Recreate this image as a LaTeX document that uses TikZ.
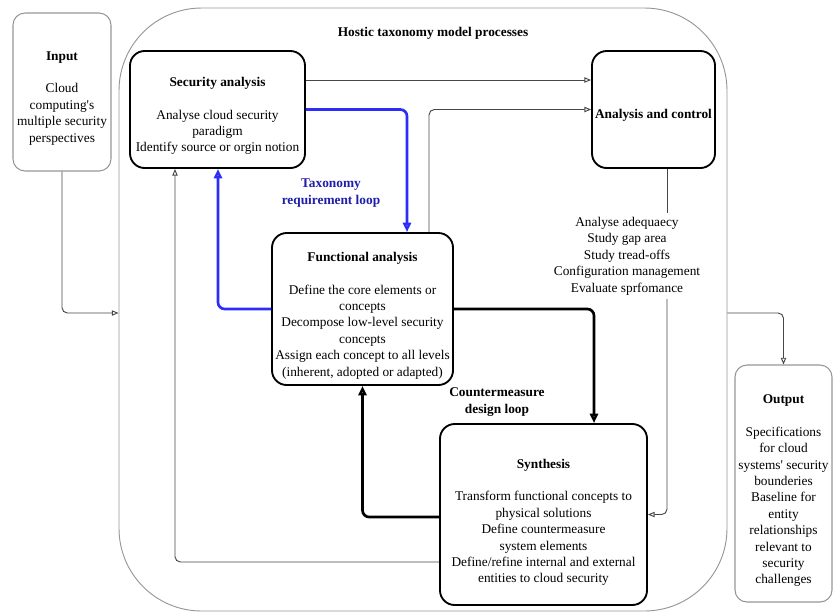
\documentclass[tikz,border=0pt]{standalone}
\usepackage{fontspec}
\setmainfont{Liberation Serif}
\usetikzlibrary{arrows.meta,fit}
\definecolor{loopblue}{RGB}{45,45,250}
\definecolor{looptext}{RGB}{30,30,170}
\definecolor{framegray}{RGB}{150,150,150}
\definecolor{wiregray}{RGB}{70,70,70}
\newcommand{\apo}{\textquotesingle}
\begin{document}
\begin{tikzpicture}[x=0.75pt,y=-0.75pt,
  every node/.style={font=\fontsize{10}{12.3}\selectfont, align=center},
  boldtext/.style={font=\fontsize{10}{12.3}\selectfont\bfseries},
  procbox/.style={draw=black, line width=1.4pt, rounded corners=11pt, inner sep=0pt},
  iobox/.style={draw=framegray, line width=0.8pt, rounded corners=9pt, inner sep=0pt},
  frame/.style={draw=framegray, line width=0.7pt, rounded corners=62pt, inner sep=0pt},
  plainwire/.style={draw=wiregray, line width=0.7pt},
  wire/.style={draw=wiregray, line width=0.7pt, rounded corners=4pt, -{Triangle[open,length=5pt,width=4pt]}},
  bigwire/.style={draw=black, line width=2pt, rounded corners=5pt, -{Triangle[open,length=7pt,width=6pt]}},
  bluewire/.style={draw=loopblue, line width=2pt, rounded corners=5pt, -{Triangle[open,length=7pt,width=6pt]}},
]
\useasboundingbox (0,0) rectangle (834,612);

% process frame and its title
\node[frame, fit={(119,8) (727,611)}] (proc) {};
\node[boldtext] (ttl) at (433,33) {Hostic taxonomy model processes};

% input and output
\node[iobox, fit={(13,13) (111,171)}] (in) {};
\node (intext) at ([yshift=-4.8pt]in.center)
  {\textbf{Input}\\[12pt]Cloud\\computing\apo s\\multiple security\\perspectives};
\node[iobox, fit={(735,365) (832,602)}] (out) {};
\node (outtext) at ([yshift=-5.5pt]out.center)
  {\textbf{Output}\\[12pt]Specifications\\for cloud\\systems\apo\ security\\bounderies\\Baseline for\\entity\\relationships\\relevant to\\security\\challenges};

% process steps
\node[procbox, fit={(130,51) (305,168)}] (sec) {};
\node (sectext) at ([yshift=-5pt]sec.center)
  {\textbf{Security analysis}\\[12pt]Analyse cloud security\\paradigm\\Identify source or orgin notion};
\node[procbox, fit={(592,51) (715,168)}] (ac) {};
\node[boldtext] (actext) at ([yshift=-4.5pt]ac.center) {Analysis and control};
\node[procbox, fit={(272,233) (453,385)}] (fa) {};
\node (fatext) at ([yshift=-5pt]fa.center)
  {\textbf{Functional analysis}\\[12pt]Define the core elements or\\concepts\\Decompose low-level security\\concepts\\Assign each concept to all levels\\(inherent, adopted or adapted)};
\node[procbox, fit={(440,424) (647,605)}] (syn) {};
\node (syntext) at ([yshift=-6pt]syn.center)
  {\textbf{Synthesis}\\[12pt]Transform functional concepts to\\physical solutions\\Define countermeasure\\system elements\\Define/refine internal and external\\entities to cloud security};

% loop labels and control notes
\node[boldtext, text=looptext] (tlabel) at (331,193) {Taxonomy\\requirement loop};
\node[boldtext] (clabel) at (497,402) {Countermeasure\\design loop};
\node[inner sep=3pt] (notes) at (627,256)
  {Analyse adequaecy\\Study gap area\\Study tread-offs\\Configuration management\\Evaluate sprfomance};

% connectors
\draw[wire] (in.south) |- (proc.west |- 0,313);
\draw[wire] (proc.east |- 0,313) -| (out.north);
\draw[wire] (sec.east |- 0,80) -- (ac.west |- 0,80);
\draw[wire] (fa.north -| 429,0) |- (ac.west);
\draw[plainwire] (ac.south -| 667,0) -- (notes.north -| 667,0);
\draw[wire] (notes.south -| 667,0) |- (syn.east);
\draw[wire] (syn.west |- 0,562) -| (sec.south -| 175,0);

% taxonomy requirement loop
\draw[bluewire] (sec.east) -| (fa.north -| 407,0);
\draw[bluewire] (fa.west) -| (sec.south -| 218,0);

% countermeasure design loop
\draw[bigwire] (fa.east) -| (syn.north -| 594,0);
\draw[bigwire] (syn.west |- 0,517) -| (fa.south);
\end{tikzpicture}
\end{document}
